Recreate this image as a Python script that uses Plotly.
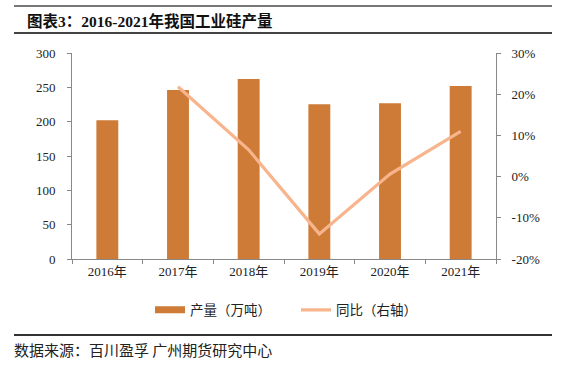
import plotly.graph_objects as go

years = ["2016年", "2017年", "2018年", "2019年", "2020年", "2021年"]
output = [202, 246, 262, 225.5, 227, 252]
yoy = [None, 21.8, 6.5, -13.9, 0.6, 11.0]
left_ticks = [0, 50, 100, 150, 200, 250, 300]
right_ticks = [-20, -10, 0, 10, 20, 30]
right_labels = ["-20%", "-10%", "0%", "10%", "20%", "30%"]

W, H = 567, 371
L, R = 72, 71
PLOT_TOP, PLOT_BOTTOM = 53, 259
PW = W - L - R

serif = "Liberation Serif, Times New Roman, serif"
cjk = "Noto Sans CJK SC, sans-serif"
BAR_C = "#CD7B37"
LINE_C = "#F8B48C"

def px_x(xp):
    return (xp - L) / PW

def px_y(yp):
    return (H - yp) / H

fig = go.Figure()
fig.add_trace(go.Bar(x=years, y=output, name="产量（万吨）", marker=dict(color=BAR_C, line=dict(width=0)),
                     width=0.31, yaxis="y", showlegend=False))
# legend proxy for the bar series (wide rectangular swatch)
fig.add_trace(go.Scatter(x=[None], y=[None], name="产量（万吨）", mode="lines",
                         line=dict(color=BAR_C, width=7), yaxis="y", showlegend=True))
fig.add_trace(go.Scatter(x=years, y=yoy, name="同比（右轴）", mode="lines",
                         line=dict(color=LINE_C, width=3.2), yaxis="y2"))

dom = [px_y(PLOT_BOTTOM), px_y(PLOT_TOP)]

fig.update_layout(
    width=W, height=H,
    margin=dict(l=L, r=R, t=0, b=0, autoexpand=False),
    paper_bgcolor="white", plot_bgcolor="white",
    showlegend=True,
    legend=dict(orientation="h", x=px_x(150), xanchor="left", y=px_y(310), yanchor="middle",
                font=dict(family=cjk, size=13.5, color="#222"), traceorder="normal",
                entrywidth=101, entrywidthmode="pixels",
                bgcolor="rgba(0,0,0,0)"),
    bargap=0.69,
    xaxis=dict(type="category", showline=True, linecolor="#888", linewidth=1,
               ticks="outside", ticklen=4, tickcolor="#888", tickson="boundaries",
               tickfont=dict(family=serif + ", " + cjk, size=13, color="#222"),
               showgrid=False, zeroline=False),
    yaxis=dict(domain=dom, range=[0, 300], tickvals=left_ticks, showline=True, linecolor="#888", linewidth=1,
               ticks="outside", ticklen=4, tickcolor="#888", ticklabelstandoff=9,
               tickfont=dict(family=serif, size=13, color="#222"), showgrid=False, zeroline=False),
    yaxis2=dict(domain=dom, range=[-20, 30], tickvals=right_ticks, ticktext=right_labels, overlaying="y",
                side="right", anchor="x",
                showline=True, linecolor="#888", linewidth=1, ticks="outside", ticklen=4, tickcolor="#888",
                ticklabelstandoff=8,
                tickfont=dict(family=serif, size=13, color="#222"), showgrid=False, zeroline=False),
)

fig.add_annotation(text="<b>图表3：2016-2021年我国工业硅产量</b>", xref="paper", yref="paper",
                   x=px_x(25), y=px_y(21), xanchor="left", yanchor="middle",
                   showarrow=False, font=dict(family=serif + ", " + cjk, size=15.5, color="#111"))
fig.add_annotation(text="数据来源：百川盈孚 广州期货研究中心", xref="paper", yref="paper",
                   x=px_x(12), y=px_y(349), xanchor="left", yanchor="middle",
                   showarrow=False, font=dict(family=cjk, size=15, color="#222"))

def hrule(y_top, y_bot, x0pix, x1pix, color):
    # thin filled rectangle as a horizontal rule, aligned to whole pixels
    fig.add_shape(type="rect", xref="paper", yref="paper", layer="above",
                  x0=px_x(x0pix), x1=px_x(x1pix),
                  y0=px_y(y_bot), y1=px_y(y_top),
                  fillcolor=color, line=dict(width=0))

hrule(5, 7, 14, 552, "#777")
hrule(32, 34, 14, 552, "#444")
hrule(334, 336, 14, 552, "#333")

fig.write_html("out.html", config={"displayModeBar": False},
               post_script="document.body.style.margin='0';")
